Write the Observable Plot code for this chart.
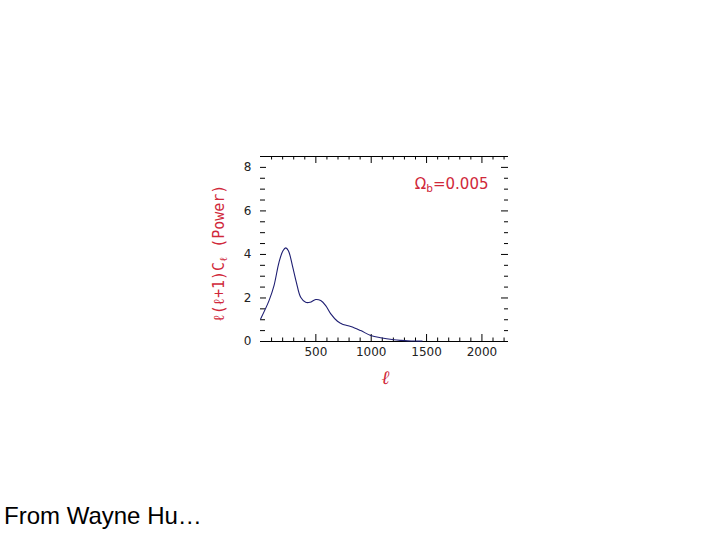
<!DOCTYPE html>
<html>
<head>
<meta charset="utf-8">
<script src="https://cdn.jsdelivr.net/npm/d3@7"></script>
<script src="https://cdn.jsdelivr.net/npm/@observablehq/plot@0.6"></script>
<style>
  html, body { margin: 0; padding: 0; background: #fff; }
  #wrap { position: relative; width: 720px; height: 540px; overflow: hidden; }
  #footer { position: absolute; left: 4px; top: 504px; font-family: "Liberation Sans", Arial, sans-serif; font-size: 24px; line-height: 24px; color: #000; }
</style>
</head>
<body>
<div id="wrap">
  <div id="chart"></div>
  <div id="footer">From Wayne Hu…</div>
</div>
<script>
// Multipole moment ℓ and power ℓ(ℓ+1)C_ℓ
const ell   = [2, 77, 122, 167, 203, 228, 252, 288, 324, 363, 408, 447, 499, 544, 589, 635, 695, 724, 754, 815, 905, 995, 1086, 1206, 1270, 1330, 1400, 1460];
const power = [1.05, 1.88, 2.57, 3.64, 4.17, 4.30, 4.17, 3.49, 2.72, 2.03, 1.80, 1.80, 1.93, 1.88, 1.65, 1.27, 0.93, 0.84, 0.77, 0.69, 0.50, 0.28, 0.17, 0.08, 0.05, 0.03, 0.02, 0.02];

const xTickLabels = [500, 1000, 1500, 2000];
const yTickLabels = [0, 2, 4, 6, 8];
const xMinorTicks = d3.range(100, 2240, 100).filter(d => d % 500 !== 0);
const xMajorTicks = [500, 1000, 1500, 2000];
const yMinorTicks = d3.range(0.5, 8.5, 0.5).filter(d => d % 2 !== 0);
const yMajorTicks = [0, 2, 4, 6, 8];

const xDomain = [0, 2240];
const yDomain = [0, 8.5];

const annotation = "Ωb=0.005";
const yLabel = "ℓ(ℓ+1)Cℓ (Power)";
const xLabel = "ℓ";

const data = ell.map((l, i) => ({l, p: power[i]}));

const W = 720, H = 500;
const mL = 260, mR = 212, mT = 156, mB = 159;
const fw = W - mL - mR, fh = H - mT - mB;
const red = "#d0283a";

const chart = Plot.plot({
  width: W, height: H,
  marginLeft: mL, marginRight: mR, marginTop: mT, marginBottom: mB,
  x: {domain: xDomain},
  y: {domain: yDomain},
  style: {background: "#fff", fontFamily: "DejaVu Sans, sans-serif", fontSize: "12px", color: "#222"},
  marks: [
    Plot.axisX(xTickLabels, {anchor: "bottom", tickSize: 0, tickPadding: 6, label: null, tickFormat: d => `${d}`}),
    Plot.axisY(yTickLabels, {anchor: "left", tickSize: 0, tickPadding: 9, label: null, tickFormat: d => `${d}`}),
    // top & bottom frame lines
    Plot.ruleY([yDomain[0]], {stroke: "#000", strokeWidth: 1}),
    Plot.ruleY([yDomain[1]], {stroke: "#000", strokeWidth: 1}),
    // inward ticks, top & bottom
    Plot.ruleX(xMinorTicks, {insetBottom: fh - 3.5, stroke: "#000"}),
    Plot.ruleX(xMajorTicks, {insetBottom: fh - 7, stroke: "#000"}),
    Plot.ruleX(xMinorTicks, {insetTop: fh - 3.5, stroke: "#000"}),
    Plot.ruleX(xMajorTicks, {insetTop: fh - 7, stroke: "#000"}),
    // inward ticks, left & right
    Plot.ruleY(yMinorTicks, {insetRight: fw - 5, stroke: "#000"}),
    Plot.ruleY(yMajorTicks, {insetRight: fw - 6, stroke: "#000"}),
    Plot.ruleY(yMinorTicks, {insetLeft: fw - 4, stroke: "#000"}),
    Plot.ruleY(yMajorTicks, {insetLeft: fw - 7, stroke: "#000"}),
    // curve
    Plot.line(data, {x: "l", y: "p", stroke: "#1e1e72", strokeWidth: 1.1, curve: "catmull-rom"}),
    // annotation
    Plot.text([annotation], {frameAnchor: "top-right", dx: -20, dy: 32, textAnchor: "end", lineAnchor: "bottom",
      fill: red, fontSize: 15, fontFamily: "DejaVu Sans, sans-serif"}),
    // y label
    Plot.text([yLabel], {frameAnchor: "left", dx: -41, dy: 4, rotate: -90, textAnchor: "middle", lineAnchor: "middle",
      fill: red, fontSize: 15, fontFamily: "DejaVu Sans Mono, monospace"}),
    // x label
    Plot.text([xLabel], {frameAnchor: "bottom", dx: 1, dy: 36, textAnchor: "middle", lineAnchor: "middle",
      fill: red, fontSize: 19, fontFamily: "DejaVu Serif, serif", fontStyle: "italic"})
  ]
});

document.getElementById("chart").appendChild(chart);

// subscripts
function subscriptify(full, before, sub, after) {
  d3.select(chart).selectAll("text").each(function() {
    if (this.textContent === full) {
      const t = d3.select(this);
      t.text(null);
      t.append("tspan").text(before);
      t.append("tspan").attr("font-size", "0.7em").attr("dy", "0.3em").text(sub);
      t.append("tspan").attr("dy", "-0.21em").text(after);
    }
  });
}
subscriptify(annotation, "Ω", "b", "=0.005");
subscriptify(yLabel, "ℓ(ℓ+1)C", "ℓ", " (Power)");
</script>
</body>
</html>
